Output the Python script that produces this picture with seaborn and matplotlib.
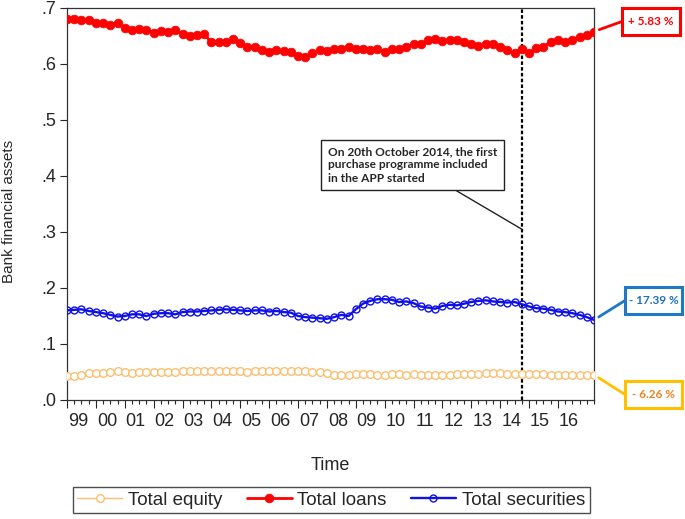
import matplotlib
matplotlib.use("Agg")
import matplotlib.pyplot as plt
import matplotlib.transforms as mtransforms
from matplotlib.patches import Rectangle
from matplotlib.ticker import MultipleLocator, FuncFormatter
import seaborn as sns
import pandas as pd

sns.set_style("ticks")
plt.rcParams['font.family'] = ['Liberation Sans', 'DejaVu Sans']

# quarterly data, 1999Q1 onwards
year_labels = ['99', '00', '01', '02', '03', '04', '05', '06', '07',
               '08', '09', '10', '11', '12', '13', '14', '15', '16']

loans = [0.680, 0.680, 0.679, 0.679, 0.674, 0.674, 0.670, 0.673,
         0.664, 0.661, 0.662, 0.661, 0.656, 0.659, 0.658, 0.661,
         0.654, 0.650, 0.651, 0.653, 0.639, 0.639, 0.640, 0.644,
         0.637, 0.631, 0.630, 0.625, 0.621, 0.625, 0.623, 0.622,
         0.615, 0.613, 0.620, 0.625, 0.623, 0.627, 0.627, 0.631,
         0.626, 0.626, 0.625, 0.626, 0.622, 0.626, 0.626, 0.631,
         0.636, 0.636, 0.642, 0.645, 0.641, 0.642, 0.642, 0.639,
         0.635, 0.632, 0.635, 0.635, 0.630, 0.625, 0.620, 0.627,
         0.620, 0.628, 0.631, 0.639, 0.642, 0.640, 0.643, 0.649,
         0.651, 0.658]

securities = [0.160, 0.161, 0.162, 0.159, 0.157, 0.155, 0.152, 0.149,
              0.150, 0.153, 0.153, 0.150, 0.154, 0.155, 0.155, 0.153,
              0.157, 0.158, 0.158, 0.159, 0.160, 0.161, 0.162, 0.161,
              0.160, 0.159, 0.160, 0.160, 0.158, 0.159, 0.157, 0.156,
              0.150, 0.148, 0.147, 0.146, 0.145, 0.148, 0.152, 0.150,
              0.162, 0.172, 0.177, 0.180, 0.180, 0.179, 0.175, 0.176,
              0.173, 0.167, 0.165, 0.163, 0.168, 0.170, 0.169, 0.172,
              0.175, 0.177, 0.178, 0.176, 0.175, 0.174, 0.175, 0.171,
              0.167, 0.164, 0.163, 0.161, 0.158, 0.157, 0.155, 0.152,
              0.148, 0.143]

equity = [0.043, 0.042, 0.045, 0.049, 0.049, 0.048, 0.050, 0.051,
          0.050, 0.049, 0.050, 0.050, 0.050, 0.050, 0.050, 0.050,
          0.051, 0.052, 0.052, 0.051, 0.051, 0.051, 0.051, 0.051,
          0.051, 0.050, 0.052, 0.052, 0.052, 0.052, 0.052, 0.051,
          0.051, 0.051, 0.050, 0.050, 0.049, 0.045, 0.045, 0.045,
          0.046, 0.046, 0.046, 0.045, 0.045, 0.046, 0.046, 0.045,
          0.046, 0.045, 0.045, 0.045, 0.044, 0.045, 0.046, 0.046,
          0.047, 0.047, 0.048, 0.048, 0.048, 0.047, 0.047, 0.047,
          0.046, 0.046, 0.046, 0.045, 0.045, 0.044, 0.044, 0.045,
          0.045, 0.045]

quarter = list(range(len(loans)))
app_start = 63  # 2014Q4

change_loans = '+ 5.83 %'
change_securities = '- 17.39 %'
change_equity = '- 6.26 %'

c_equity = '#FDBF6F'
c_loans = '#FF0000'
c_sec = '#1010E8'

df = pd.DataFrame({'quarter': quarter, 'Total equity': equity,
                   'Total loans': loans, 'Total securities': securities})

fig = plt.figure(figsize=(6.85, 5.19), dpi=100)
ax = fig.add_axes([67 / 685, 1 - 400 / 519, 527 / 685, 392 / 519])

ax.axvline(app_start, color='black', ls=(0, (1.6, 1)), lw=1.6, zorder=1)

sns.lineplot(data=df, x='quarter', y='Total equity', ax=ax, color=c_equity,
             lw=1, marker='o', markersize=5.5, markerfacecolor='white',
             markeredgecolor=c_equity, markeredgewidth=1,
             label='Total equity', legend=False, zorder=3)
sns.lineplot(data=df, x='quarter', y='Total loans', ax=ax, color=c_loans,
             lw=2, marker='o', markersize=6.3, markerfacecolor=c_loans,
             markeredgecolor=c_loans, markeredgewidth=0.5,
             label='Total loans', legend=False, zorder=3)
sns.lineplot(data=df, x='quarter', y='Total securities', ax=ax, color=c_sec,
             lw=1.7, marker='o', markersize=5, markerfacecolor='none',
             markeredgecolor=c_sec, markeredgewidth=1,
             label='Total securities', legend=False, zorder=3)

ax.set_xlim(0, len(quarter) - 1)
ax.set_ylim(0, 0.7)
ax.yaxis.set_major_locator(MultipleLocator(0.1))
ax.yaxis.set_major_formatter(FuncFormatter(lambda v, p: f"{v:.1f}".lstrip('0')))
ax.set_xticks(range(0, 4 * len(year_labels), 4), year_labels)
ax.xaxis.set_minor_locator(MultipleLocator(1))
ax.tick_params(axis='x', which='major', length=6, width=0.8, labelsize=13, pad=3)
ax.tick_params(axis='x', which='minor', length=3, width=0.8)
ax.tick_params(axis='y', length=5, width=0.8, labelsize=13, pad=3)
offset = mtransforms.ScaledTranslation(0.11, 0, fig.dpi_scale_trans)
for lab in ax.get_xticklabels():
    lab.set_transform(lab.get_transform() + offset)

for s in ax.spines.values():
    s.set_linewidth(0.9)
    s.set_color('#333333')

ax.set_xlabel('Time', fontsize=13, labelpad=20)
ax.set_ylabel('Bank financial assets', fontsize=11)
ax.yaxis.set_label_coords(-0.097, 0.48)

handles, labels = ax.get_legend_handles_labels()
leg = fig.legend(handles, labels, loc='center', bbox_to_anchor=(331 / 685, 1 - 500 / 519),
                 ncol=3, fontsize=13.5, frameon=True, fancybox=False, edgecolor='#222222',
                 handlelength=2.4, handletextpad=0.3, columnspacing=1.3,
                 borderpad=0.25, borderaxespad=0)
leg.get_frame().set_linewidth(1)

# change boxes on the right
box_font = dict(family=['Lato', 'DejaVu Sans'], weight='bold', size=8.5)


def change_box(text, y_end, box, text_color, edge_color):
    x0, y0, w, h = box  # in pixels from top-left
    fig.patches.append(Rectangle((x0 / 685, 1 - (y0 + h) / 519), w / 685, h / 519,
                                 transform=fig.transFigure, facecolor='white',
                                 edgecolor=edge_color, lw=2.2, zorder=5))
    fig.text((x0 + w / 2) / 685, 1 - (y0 + h / 2) / 519, text, color=text_color,
             ha='center', va='center', zorder=6, **box_font)
    ax.annotate('', xy=(quarter[-1], y_end), xycoords='data',
                xytext=(x0 / 685, 1 - (y0 + h / 2) / 519), textcoords='figure fraction',
                arrowprops=dict(arrowstyle='-', color=edge_color, lw=2,
                                shrinkA=0, shrinkB=4),
                annotation_clip=False)


change_box(change_loans, loans[-1], (622, 8, 58, 27), '#FF0000', '#FF0000')
change_box(change_securities, securities[-1], (625, 287, 57, 27), '#1F6FC0', '#1F78C8')
change_box(change_equity, equity[-1], (625, 381, 57, 27), '#F08020', '#FFC000')

ax.annotate('On 20th October 2014, the first\npurchase programme included\nin the APP started',
            xy=(app_start, 0.305), xycoords='data',
            xytext=(328 / 685, 1 - 165 / 519), textcoords='figure fraction',
            ha='left', va='center', linespacing=1.25,
            family=['Lato', 'DejaVu Sans'], weight='bold', fontsize=8.6,
            bbox=dict(boxstyle='square,pad=0.55', fc='white', ec='#222222', lw=1),
            arrowprops=dict(arrowstyle='-', color='#222222', lw=1, shrinkA=0, shrinkB=0))

fig.savefig('out.png', dpi=100)
